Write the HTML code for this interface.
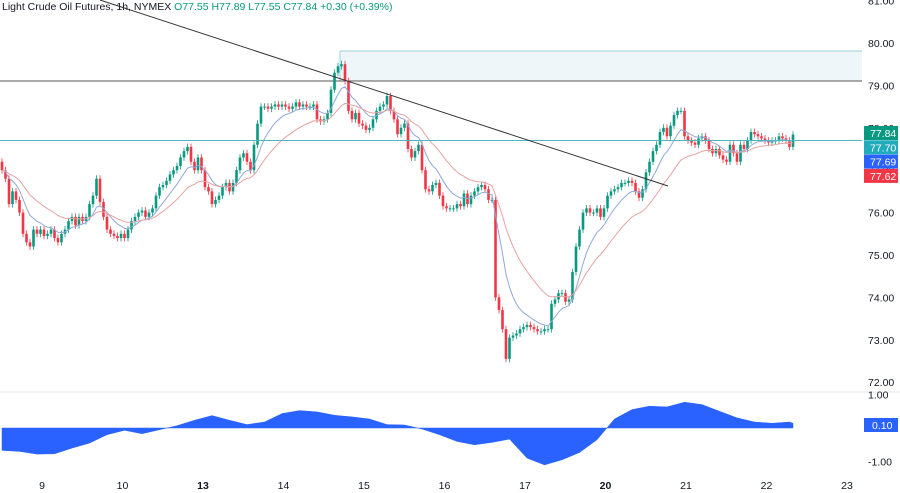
<!DOCTYPE html>
<html><head><meta charset="utf-8"><style>
body{margin:0;background:#fff;font-family:"Liberation Sans",sans-serif}
svg{display:block}
</style></head><body>
<svg id="c" width="900" height="493" viewBox="0 0 900 493" font-family="Liberation Sans, sans-serif">
<rect width="900" height="493" fill="#fff"/>
<rect x="340" y="51" width="522" height="30" fill="#eef6fa"/>
<line x1="340" y1="51" x2="862" y2="51" stroke="#9fd0d8" stroke-width="1"/>
<line x1="340" y1="51" x2="340" y2="81" stroke="#9fd0d8" stroke-width="1"/>
<line x1="0" y1="81" x2="862" y2="81" stroke="#555" stroke-width="1"/>
<line x1="0" y1="392" x2="900" y2="392" stroke="#e0e3eb" stroke-width="1"/>
<g id="candles"></g>
<g id="mas"></g>
<g id="osc"></g>
<g id="axes"></g>
<text x="2" y="10" font-size="10.5" fill="#131722">Light Crude Oil Futures, 1h, NYMEX <tspan fill="#089981">O77.55 H77.89 L77.55 C77.84 +0.30 (+0.39%)</tspan></text>
<line x1="100" y1="0" x2="668" y2="186" stroke="#333" stroke-width="1"/>
</svg>
<script>
const closes=[77.0,76.8,76.2,76.5,76.3,76.0,75.5,75.3,75.2,75.6,
75.5,75.6,75.45,75.5,75.6,75.4,75.3,75.5,75.6,75.8,
75.9,75.7,75.9,75.8,75.9,76.2,76.4,76.8,76.25,75.9,
75.6,75.5,75.45,75.4,75.5,75.4,75.6,75.8,75.9,76.0,
76.05,75.9,76.0,76.1,76.4,76.6,76.65,76.75,76.9,77.0,
77.1,77.3,77.45,77.55,77.2,77.0,77.3,77.0,76.6,76.5,
76.2,76.3,76.4,76.6,76.7,76.5,76.7,77.0,77.3,77.4,
77.2,77.0,77.6,78.1,78.5,78.5,78.45,78.5,78.55,78.5,
78.55,78.5,78.45,78.5,78.6,78.5,78.55,78.5,78.5,78.55,
78.2,78.15,78.2,78.35,78.9,79.3,79.45,79.5,79.1,78.4,
78.2,78.35,78.1,78.05,77.95,78.0,78.2,78.4,78.5,78.55,
78.75,78.4,78.2,77.85,78.0,78.1,77.5,77.3,77.45,77.6,
77.0,76.55,76.5,76.65,76.7,76.4,76.15,76.1,76.1,76.1,
76.2,76.15,76.45,76.2,76.4,76.5,76.6,76.65,76.55,76.3,
76.3,74.0,73.7,73.25,72.55,73.05,73.1,73.15,73.25,73.3,
73.35,73.3,73.25,73.2,73.2,73.25,73.25,73.85,73.95,74.1,
74.1,73.9,73.95,74.6,75.2,75.6,76.0,76.1,76.0,76.0,
76.1,75.9,76.1,76.4,76.5,76.55,76.6,76.7,76.7,76.75,
76.7,76.5,76.35,76.55,76.95,77.2,77.45,77.6,77.9,78.0,
77.8,78.05,78.3,78.4,78.4,77.8,77.7,77.65,77.6,77.75,
77.8,77.7,77.5,77.4,77.5,77.35,77.25,77.2,77.6,77.4,
77.2,77.6,77.5,77.7,77.9,77.85,77.8,77.75,77.7,77.65,
77.7,77.7,77.8,77.75,77.7,77.55,77.84];
const oscValues=[-0.67,-0.70,-0.78,-0.77,-0.6,-0.45,-0.2,-0.07,-0.17,-0.05,0.07,0.23,0.37,0.23,0.1,0.18,0.43,0.52,0.48,0.38,0.33,0.27,0.1,0.09,-0.03,-0.2,-0.4,-0.5,-0.43,-0.33,-0.9,-1.1,-0.95,-0.73,-0.35,0.27,0.55,0.65,0.63,0.77,0.7,0.5,0.3,0.18,0.14,0.18,0.14,0.1];
const priceTicks=["81.00","80.00","79.00","78.00","77.00","76.00","75.00","74.00","73.00","72.00"];
const dayLabels=["9","10","13","14","15","16","17","20","21","22","23"];
const boldDays=["13","20"];
const lastValues=[["77.84","#089981"],["77.70","#22abbd"],["77.69","#2962ff"],["77.62","#f23645"]];

const NS="http://www.w3.org/2000/svg";
const X=i=>2+i*3.5;
const Y=p=>43+(80-p)*42.4;
const OY=v=>428-v*33.5;
function mk(t,a,parent){const e=document.createElementNS(NS,t);for(const k in a)e.setAttribute(k,a[k]);parent.appendChild(e);return e;}
const cg=document.getElementById('candles');
closes.forEach((c,i)=>{
  const o=i===0?77.2:closes[i-1];
  const up=c>=o;const col=up?'#089981':'#f23645';
  const hi=Math.max(o,c)+0.08,lo=Math.min(o,c)-0.08;
  const w=mk('line',{x1:X(i),x2:X(i),y1:Y(hi),y2:Y(lo),stroke:col,'stroke-width':0.8},cg);
  
  
  const top=Y(Math.max(o,c)),h=Math.max(1,Y(Math.min(o,c))-top);
  const b=mk('rect',{x:X(i)-1.3,y:top,width:2.6,height:h,fill:col},cg);
  
  
});
function ema(n){const k=2/(n+1);let e=closes[0];return closes.map(c=>(e=c*k+e*(1-k)));}
const mg=document.getElementById('mas');
[[ema(9),'#8fa8d8','fast-ma-line'],[ema(22),'#e6a3a3','slow-ma-line']].forEach(([arr,col,name])=>{
  const p=mk('path',{d:arr.map((v,i)=>(i?'L':'M')+X(i).toFixed(1)+' '+Y(v).toFixed(1)).join(''),fill:'none',stroke:col,'stroke-width':1},mg);
  
  
});
const hl=mk('line',{x1:0,x2:862,y1:Y(77.70),y2:Y(77.70),stroke:'#4fb6be','stroke-width':1},mg);


// oscillator
const og=document.getElementById('osc');
const OX=k=>X(Math.min(k*5,closes.length-1));
let d='M'+OX(0)+' '+OY(0);
oscValues.forEach((v,k)=>{d+='L'+OX(k).toFixed(1)+' '+OY(v).toFixed(1);});
d+='L'+OX(oscValues.length-1)+' '+OY(0)+'Z';
const op=mk('path',{d:d,fill:'#2962ff',stroke:'#2962ff','stroke-width':0.5},og);


const ag=document.getElementById('axes');
priceTicks.forEach(t=>{
  const tx=mk('text',{x:868,y:Y(parseFloat(t))+4,'font-size':10.5,fill:'#131722'},ag);tx.textContent=t;
  
  
});
lastValues.forEach(([t,col],k)=>{
  const yy=126+k*14.3;
  const r=mk('rect',{x:864,y:yy,width:34,height:14,fill:col},ag);
  
  
  const tx=mk('text',{x:870,y:yy+11,'font-size':10.5,fill:'#fff'},ag);tx.textContent=t;
  
  
});
[["1.00",1],["-1.00",-1]].forEach(([t,v])=>{
  const tx=mk('text',{x:868,y:OY(v)+4,'font-size':10.5,fill:'#131722'},ag);tx.textContent=t;
  
  
});
const ob=mk('rect',{x:864,y:418,width:34,height:14,fill:'#2962ff'},ag);


const obt=mk('text',{x:872,y:429,'font-size':10.5,fill:'#fff'},ag);obt.textContent='0.10';


dayLabels.forEach((t,k)=>{
  const tx=mk('text',{x:42+k*80.5,y:489,'font-size':10.5,fill:'#131722','text-anchor':'middle','font-weight':boldDays.includes(t)?'bold':'normal'},ag);tx.textContent=t;
  
  
});
</script>
</body></html>
